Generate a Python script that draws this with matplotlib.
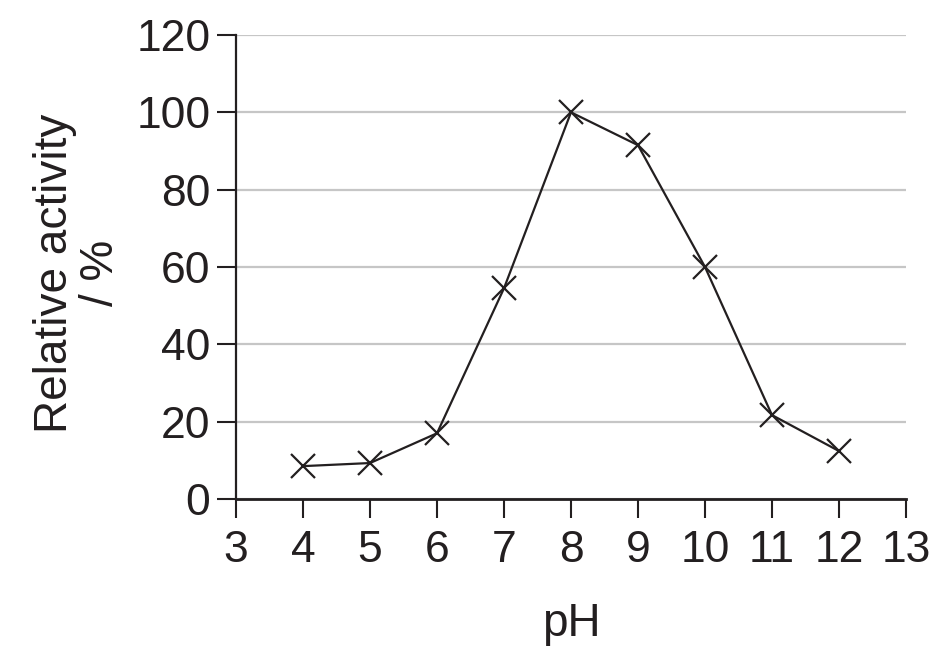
import matplotlib
matplotlib.use('Agg')
import matplotlib.pyplot as plt

ph = [4, 5, 6, 7, 8, 9, 10, 11, 12]
activity = [8.5, 9.3, 17, 54.5, 100, 91.5, 60, 21.7, 12.4]
xticks = [3, 4, 5, 6, 7, 8, 9, 10, 11, 12, 13]
yticks = [0, 20, 40, 60, 80, 100, 120]

plt.rcParams['font.family'] = ['Liberation Sans', 'DejaVu Sans']
ink = '#231f20'

fig = plt.figure(figsize=(9.44, 6.59), dpi=100)
ax = fig.add_axes([236 / 944, 1 - 499 / 659, 670 / 944, 464 / 659])

ax.plot(ph, activity, color=ink, linewidth=1.6, marker='x',
        markersize=17, markeredgewidth=1.6, zorder=3)

ax.set_xlim(3, 13)
ax.set_ylim(0, 120)
ax.set_xticks(xticks)
ax.set_yticks(yticks)
ax.yaxis.grid(True, color='#c6c6c6', linewidth=1.6)
ax.set_axisbelow(True)

for side in ['top', 'right']:
    ax.spines[side].set_visible(False)
ax.spines['left'].set_linewidth(1.6)
ax.spines['bottom'].set_linewidth(2.0)
ax.spines['left'].set_color(ink)
ax.spines['bottom'].set_color(ink)

ax.tick_params(axis='both', direction='out', length=13.5, width=1.5,
               color=ink, labelsize=32, labelcolor=ink)
ax.tick_params(axis='x', pad=9)
ax.tick_params(axis='y', pad=5)

ax.set_xlabel('pH', fontsize=33, color=ink)
ax.xaxis.set_label_coords(0.5, -0.221)
ax.set_ylabel('Relative activity\n/ %', fontsize=33, color=ink,
              linespacing=1.08)
ax.yaxis.set_label_coords(-0.168, 0.487)

fig.savefig('out.png', dpi=100)
